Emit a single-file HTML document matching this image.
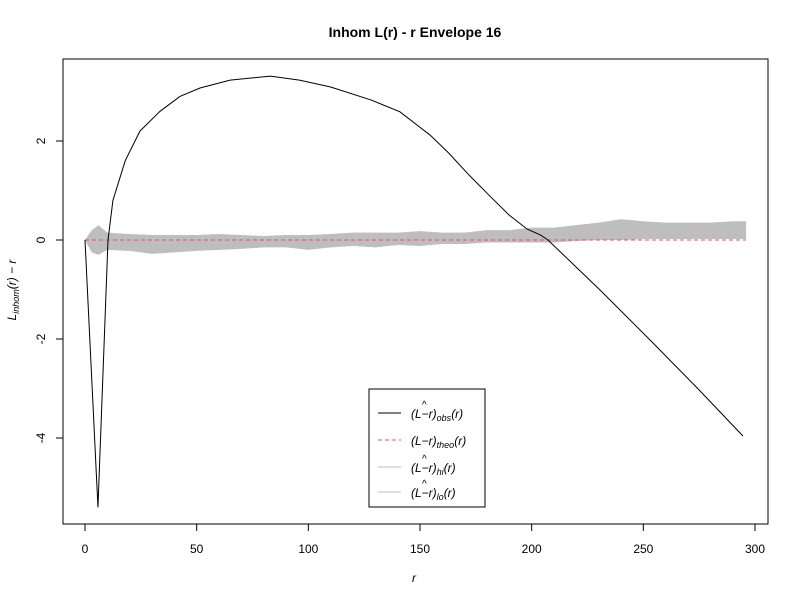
<!DOCTYPE html>
<html><head><meta charset="utf-8">
<style>
body{margin:0;background:#fff;}
svg{display:block;font-family:"Liberation Sans",Arial,sans-serif;}
</style></head>
<body>
<svg id="chart" width="800" height="600"></svg>
<script>
const obsR = [0,5.8,10.3,12.5,18,24.6,33.6,42.5,51.5,65,83,96,110,128,141,154.5,163,172,181,190,198,204,207.3,230.6,253,275,294.6];
const obsV = [0,-5.4,0,0.8,1.6,2.2,2.6,2.9,3.07,3.23,3.31,3.23,3.09,2.83,2.59,2.12,1.75,1.31,0.9,0.5,0.22,0.1,0,-1.01,-2.02,-3.03,-3.96];
const envR = [0,3,6,10,20,30,40,50,60,70,80,90,100,110,120,130,140,150,160,170,180,190,200,210,220,230,240,250,260,270,280,290,296];
const envHi = [0,0.2,0.3,0.15,0.12,0.1,0.1,0.1,0.12,0.1,0.08,0.1,0.1,0.12,0.15,0.15,0.15,0.18,0.15,0.15,0.2,0.2,0.25,0.25,0.3,0.35,0.42,0.38,0.35,0.35,0.35,0.38,0.38];
const envLo = [0,-0.25,-0.3,-0.2,-0.22,-0.28,-0.25,-0.22,-0.2,-0.18,-0.15,-0.15,-0.2,-0.15,-0.12,-0.15,-0.1,-0.12,-0.08,-0.08,-0.05,-0.05,-0.05,-0.05,-0.02,0,0,0.02,0.02,0.02,0.02,0.02,0.02];
const xTicks = [0,50,100,150,200,250,300];
const yTicks = [2,0,-2,-4];

const svg = document.getElementById('chart');
const NS = 'http://www.w3.org/2000/svg';
const X = r => 85 + r * (670/300);
const Y = v => 240 - v * 49.5;
function mk(tag, attrs, parent){const e=document.createElementNS(NS,tag);for(const k in attrs)e.setAttribute(k,attrs[k]);(parent||svg).appendChild(e);return e;}

let d = envR.map((r,i)=>(i?'L':'M')+X(r)+','+Y(envHi[i])).join(' ');
for(let i=envR.length-1;i>=0;i--) d += ' L'+X(envR[i])+','+Y(envLo[i]);
const band = mk('path',{d:d+' Z',fill:'#bebebe',stroke:'none'});



const theo = mk('line',{x1:X(0),x2:X(296),y1:Y(0),y2:Y(0),stroke:'#df536b','stroke-dasharray':'4,3','stroke-width':1});



const obs = mk('polyline',{points:obsR.map((r,i)=>X(r)+','+Y(obsV[i])).join(' '),fill:'none',stroke:'#000','stroke-width':1});



const box = mk('rect',{x:63,y:59,width:705,height:465,fill:'none',stroke:'#000'});



mk('line',{x1:X(0),x2:X(300),y1:524,y2:524,stroke:'#000'});
xTicks.forEach(t=>{
  mk('line',{x1:X(t),x2:X(t),y1:524,y2:531,stroke:'#000'});
  const tx = mk('text',{x:X(t),y:553,'text-anchor':'middle','font-size':12});
  tx.textContent = t;
  
  
});
mk('line',{x1:63,x2:63,y1:Y(2),y2:Y(-4),stroke:'#000'});
yTicks.forEach(t=>{
  mk('line',{x1:56,x2:63,y1:Y(t),y2:Y(t),stroke:'#000'});
  const tx = mk('text',{x:45,y:Y(t),'text-anchor':'middle','font-size':12,transform:'rotate(-90 45 '+Y(t)+')'});
  tx.textContent = t;
  
  
});
</script>
<svg width="800" height="600" style="position:absolute;left:0;top:0">
  <text x="415" y="37" text-anchor="middle" font-size="14" font-weight="bold" font-family="Liberation Sans,sans-serif">Inhom L(r) - r Envelope 16</text>
  <text x="414" y="582" text-anchor="middle" font-size="12" font-style="italic" font-family="Liberation Sans,sans-serif">r</text>
  <text transform="translate(16 290) rotate(-90)" text-anchor="middle" font-size="12" font-style="italic" font-family="Liberation Sans,sans-serif">L<tspan font-size="9" dy="3">inhom</tspan><tspan dy="-3">(r) − r</tspan></text>
  <g font-family="Liberation Sans,sans-serif" font-size="12" font-style="italic">
    <rect x="369" y="389" width="116" height="118" fill="#fff" stroke="#000"/>
    <line x1="378" x2="401" y1="413" y2="413" stroke="#000"/>
    <text x="411" y="418">(L−r)<tspan font-size="9" dy="3">obs</tspan><tspan dy="-3">(r)</tspan></text>
    <text x="422" y="408" font-size="10" font-style="normal">^</text>
    <line x1="378" x2="401" y1="440" y2="440" stroke="#df536b" stroke-dasharray="4,3"/>
    <text x="411" y="445">(L−r)<tspan font-size="9" dy="3">theo</tspan><tspan dy="-3">(r)</tspan></text>
    <line x1="378" x2="401" y1="467" y2="467" stroke="#bebebe"/>
    <text x="411" y="472">(L−r)<tspan font-size="9" dy="3">hi</tspan><tspan dy="-3">(r)</tspan></text>
    <text x="422" y="462" font-size="10" font-style="normal">^</text>
    <line x1="378" x2="401" y1="492" y2="492" stroke="#bebebe"/>
    <text x="411" y="497">(L−r)<tspan font-size="9" dy="3">lo</tspan><tspan dy="-3">(r)</tspan></text>
    <text x="422" y="487" font-size="10" font-style="normal">^</text>
  </g>
</svg>
</body></html>
